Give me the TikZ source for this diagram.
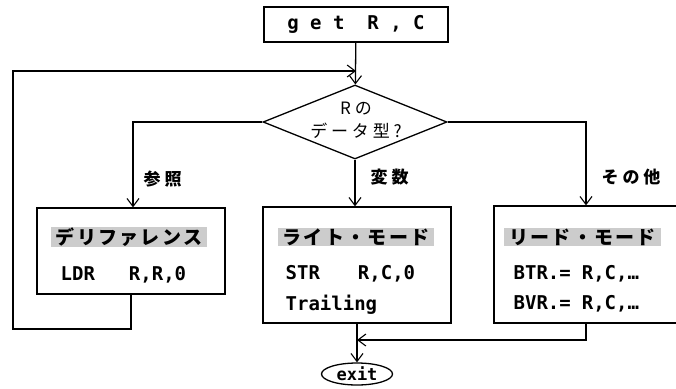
\documentclass[tikz,border=0pt]{standalone}
\usepackage{fontspec}
\setmainfont{Noto Sans CJK JP}
\newfontfamily\jph{Noto Sans CJK JP}[LetterSpace=12]
\newfontfamily\lat{DejaVu Sans Mono}
\usetikzlibrary{arrows.meta,shapes.geometric}
\begin{document}
\begin{tikzpicture}[x=1pt,y=-1pt,
  line width=1.3pt,
  arr/.style={-{Straight Barb[length=8pt,width=12pt,line width=1.1pt]}},
  box/.style={draw,rectangle,inner sep=0pt},
  head/.style={fill=gray!40,inner xsep=5pt,inner ysep=1pt,font=\jph\fontsize{19}{19}\selectfont\bfseries},
  code/.style={anchor=base west,inner sep=0pt,font=\lat\bfseries\fontsize{19}{19}\selectfont},
  lbl/.style={anchor=west,inner sep=0pt,font=\fontsize{17}{17}\selectfont\bfseries}]
\useasboundingbox (0,0) rectangle (676,388);
% top box
\node[box,minimum width=184pt,minimum height=35pt,font=\lat\bfseries\fontsize{19}{19}\selectfont] (get) at (356,24.5) {g e t\ \ R , C};
% diamond
\node[draw,diamond,inner sep=0pt,minimum width=184pt,minimum height=74pt,shape aspect=2.49] (dia) at (355,122) {};
\node[align=center,inner sep=0pt,font=\fontsize{17}{23}\selectfont] (diat) at (356,120.5) {R の\\デ ー タ 型 ?};
\coordinate (j) at (356,71);
% boxes
\node[box,minimum width=188pt,minimum height=86pt] (ref) at (131,251) {};
\node[box,minimum width=188pt,minimum height=116pt] (wri) at (357,265) {};
\node[box,minimum width=187pt,minimum height=117pt] (rea) at (587.5,264.5) {};
% box texts
\node[head] (h1) at (129,237) {デリファレンス};
\node[code] (c1) at (60,280) {LDR\hspace{34pt}R,R,0};
\node[head] (h2) at (356,237) {ライト・モード};
\node[code] (c2) at (285,279) {STR\hspace{38pt}R,C,0};
\node[code] (c3) at (285,310) {Trailing};
\node[head] (h3) at (582.5,237) {リード・モード};
\node[code] (c4) at (513,279) {BTR.=\hspace{11pt}R,C,…};
\node[code] (c5) at (513,309) {BVR.=\hspace{11pt}R,C,…};
% exit
\node[draw,ellipse,minimum width=71pt,minimum height=22pt,inner sep=0pt,font=\lat\bfseries\fontsize{17}{17}\selectfont] (exit) at (357,374) {exit};
\coordinate (lb) at (13,329);
\coordinate (j2) at (357,340);
% labels
\node[lbl] (l1) at (143,179) {参 照};
\node[lbl] (l2) at (370,177) {変 数};
\node[lbl] (l3) at (601,177) {そ の 他};
% connectors
\draw[arr] (get) -- (dia);
\draw[arr] (ref.south) |- (lb) |- (j);
\draw[arr] (dia.west) -| ([xshift=2pt]ref.north);
\draw[arr] (dia.south) -- (dia.south |- wri.north);
\draw[arr] (dia.east) -| ([xshift=-1.5pt]rea.north);
\draw[arr] (wri.south) -- (exit.north);
\draw[arr] ([xshift=-1.5pt]rea.south) |- (j2);
\end{tikzpicture}
\end{document}
